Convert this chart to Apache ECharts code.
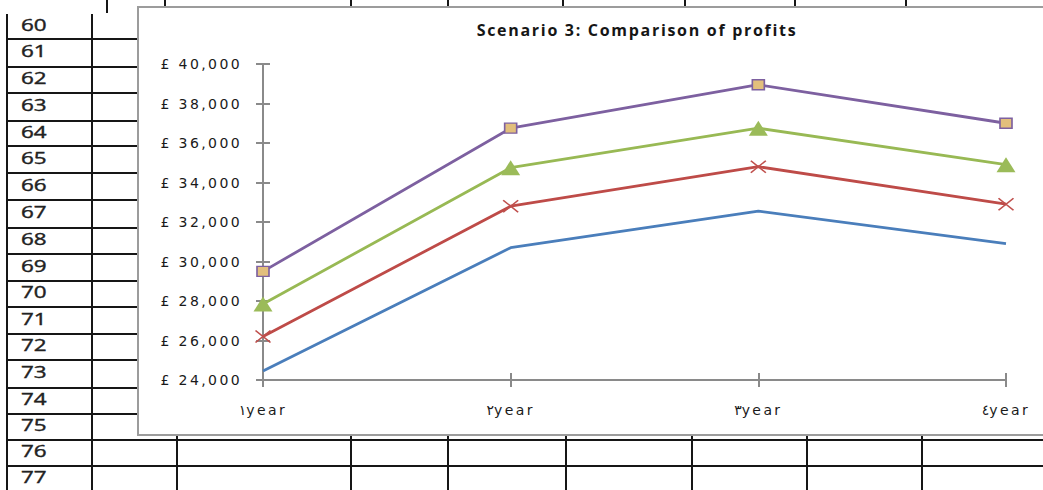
<!DOCTYPE html>
<html>
<head>
<meta charset="utf-8">
<script src="https://cdn.jsdelivr.net/npm/echarts@6/dist/echarts.min.js"></script>
<style>
  html, body { margin: 0; padding: 0; width: 1043px; height: 490px; overflow: hidden; background: #fff; }
  #sheet { position: absolute; left: 0; top: 0; width: 1043px; height: 490px; }
  .ln { position: absolute; background: #161616; }
  .rn { position: absolute; left: 21px; font: normal 16px 'Open Sans', sans-serif; color: #222;
        -webkit-text-stroke: 0.4px #222;
        transform: scaleX(1.4); transform-origin: left center; line-height: 1; white-space: nowrap; }
  #box { position: absolute; left: 137px; top: 6px; width: 1000px; height: 430px;
         box-sizing: border-box; border: 2px solid #9c9c9c; background: #fff; }
  #chart { width: 100%; height: 100%; letter-spacing: 2.4px; }
  #chart text[style*="bold"] { letter-spacing: 1.7px; }
</style>
</head>
<body>
<div id="sheet"></div>
<div id="box"><div id="chart"></div></div>
<script>
// ---- chart data ----
const years = ['١year', '٢year', '٣year', '٤year'];
const profitSeries1 = [24450, 30700, 32550, 30900];
const profitSeries2 = [26200, 32800, 34800, 32900];
const profitSeries3 = [27850, 34750, 36750, 34900];
const profitSeries4 = [29500, 36750, 38950, 37000];
const yMin = 24000;
const yMax = 40000;
const yStep = 2000;
const chartTitle = 'Scenario 3: Comparison of profits';
const rowNumbers = [60, 61, 62, 63, 64, 65, 66, 67, 68, 69, 70, 71, 72, 73, 74, 75, 76, 77];

// ---- worksheet grid around the chart ----
const sheet = document.getElementById('sheet');
function line(x, y, w, h) {
  const d = document.createElement('div');
  d.className = 'ln';
  d.style.left = x + 'px'; d.style.top = y + 'px';
  d.style.width = w + 'px'; d.style.height = h + 'px';
  sheet.appendChild(d);
}
const rowTops = [14, 39, 67, 93, 121, 146, 173, 200, 228, 254, 281, 307, 334, 360, 388, 414, 440, 466];
// row separators left of the chart, full width below it
rowTops.slice(1).forEach(function (y, i) {
  const full = i >= rowTops.length - 3;
  line(7, y - 1, full ? 1043 - 7 : 130, 2);
});
line(6, 14, 2, 476);
line(91, 14, 2, 476);
line(106, 0, 2, 13);
[165, 351, 448, 563, 685, 795, 906].forEach(function (x) { line(x - 1, 0, 2, 7); });
[177, 351, 448, 566, 692, 807, 922].forEach(function (x) { line(x - 1, 434, 2, 56); });
rowNumbers.forEach(function (n, i) {
  const top = rowTops[i];
  const bottom = i + 1 < rowTops.length ? rowTops[i + 1] : 492;
  const s = document.createElement('div');
  s.className = 'rn';
  s.textContent = String(n);
  s.style.top = ((top + bottom) / 2 - 10) + 'px';
  sheet.appendChild(s);
});

// ---- profit chart ----
const axisGray = '#8a8a8a';
const labelFont = { color: '#1a1a1a', fontFamily: 'DejaVu Sans', fontSize: 14 };
const chart = echarts.init(document.getElementById('chart'), null, { renderer: 'svg' });

function lineSeries(name, data, color, extra) {
  return Object.assign({
    name: name,
    type: 'line',
    data: data,
    xAxisIndex: 0,
    yAxisIndex: 0,
    lineStyle: { color: color, width: 2.8 },
    itemStyle: { color: color },
    emphasis: { disabled: true }
  }, extra);
}

chart.setOption({
  animation: false,
  title: {
    text: chartTitle,
    left: 'center',
    top: 9,
    padding: [5, 5, 5, 27],
    textStyle: { fontFamily: 'Open Sans', fontWeight: 'bold', fontSize: 16, color: '#161616' }
  },
  grid: { left: 124, top: 56, width: 743, height: 316, containLabel: false },
  xAxis: [
    {
      type: 'category', data: years, boundaryGap: false,
      axisLine: { lineStyle: { color: axisGray, width: 2 } },
      axisTick: { length: 7, lineStyle: { color: axisGray, width: 2 } },
      axisLabel: Object.assign({ margin: 23 }, labelFont),
      splitLine: { show: false }
    },
    {
      type: 'category', data: years, boundaryGap: false, position: 'bottom',
      axisLine: { show: false },
      axisTick: { inside: true, length: 7, lineStyle: { color: axisGray, width: 2 } },
      axisLabel: { show: false },
      splitLine: { show: false }
    }
  ],
  yAxis: [
    {
      type: 'value', min: yMin, max: yMax, interval: yStep,
      axisLine: { show: true, lineStyle: { color: axisGray, width: 2 } },
      axisTick: { show: true, length: 7, lineStyle: { color: axisGray, width: 2 } },
      axisLabel: Object.assign({
        margin: 21,
        formatter: function (v) { return '£ ' + v.toLocaleString('en-GB'); }
      }, labelFont),
      splitLine: { show: false }
    },
    {
      type: 'value', min: yMin, max: yMax, interval: yStep, position: 'left',
      axisLine: { show: false },
      axisTick: { show: true, inside: true, length: 7, lineStyle: { color: axisGray, width: 2 } },
      axisLabel: { show: false },
      splitLine: { show: false }
    }
  ],
  series: [
    lineSeries('Series1', profitSeries1, '#4A7EBB', { symbol: 'none' }),
    lineSeries('Series2', profitSeries2, '#BE4B48', {
      symbol: 'path://M0,0L10,10M10,0L0,10', symbolSize: [15, 12],
      itemStyle: { color: '#BE4B48', borderColor: '#C0504D', borderWidth: 1.5 }
    }),
    lineSeries('Series3', profitSeries3, '#98B954', {
      symbol: 'triangle', symbolSize: [19, 15],
      itemStyle: { color: '#9BBB59', borderWidth: 0 }
    }),
    lineSeries('Series4', profitSeries4, '#7D60A0', {
      symbol: 'rect', symbolSize: [12, 10],
      itemStyle: { color: '#E2BF7C', borderColor: '#7D60A0', borderWidth: 1.5 }
    })
  ]
});
</script>
</body>
</html>
